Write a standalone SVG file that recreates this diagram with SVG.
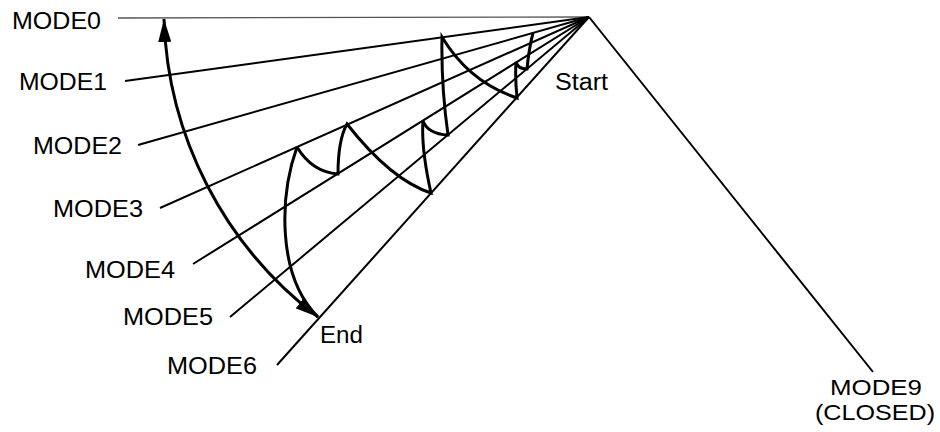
<svg xmlns="http://www.w3.org/2000/svg" width="940" height="432" viewBox="0 0 940 432">
<style>
.lbl{font-family:"Liberation Sans",Arial,Helvetica,sans-serif;font-size:23px;fill:#000}
.sm{font-size:22px}
.mode{stroke:#000;stroke-width:2;fill:none;stroke-linecap:butt}
.thin{stroke:#555;stroke-width:1.3;fill:none}
.trace{stroke:#000;stroke-width:3;fill:none;stroke-linejoin:miter}
.big{stroke:#000;stroke-width:3;fill:none}
</style>
<defs>
<marker id="arr" viewBox="0 0 10 10" refX="10" refY="5" markerUnits="userSpaceOnUse" markerWidth="23" markerHeight="13" orient="auto-start-reverse" preserveAspectRatio="none">
<path d="M0,0 L10,5 L0,10 z" fill="#000"/>
</marker>
</defs>
<rect width="940" height="432" fill="#fff"/>
<g id="connectors">
<line class="thin" x1="118" y1="18" x2="589" y2="17"/>
<line class="mode" x1="125" y1="81" x2="589" y2="17"/>
<line class="mode" x1="138" y1="145" x2="589" y2="17"/>
<line class="mode" x1="160" y1="208" x2="589" y2="17"/>
<line class="mode" x1="193" y1="264" x2="589" y2="17"/>
<line class="mode" x1="230" y1="317" x2="589" y2="17"/>
<line class="mode" x1="277" y1="365" x2="589" y2="17"/>
<line class="mode" x1="589" y1="17" x2="873" y2="372"/>
<path class="big" d="M164,19 A389,389 0 0,0 318,317" marker-start="url(#arr)" marker-end="url(#arr)"/>
<path class="trace" d="M297,147 C280,195 276,275 318,317"/>
<path class="trace" d="M297,147 Q312,172 338,174 Q338,140 347,124 Q391,180 431,193 Q421,148 423,121 Q428,134 448,135 Q441,85 442,37 Q469,82 517,98 Q515,78 516,62 Q518,69 527,69 Q529,48 533,33"/>
</g>
<g id="mode0"><text class="lbl" x="12" y="29" textLength="89" lengthAdjust="spacingAndGlyphs">MODE0</text></g>
<g id="mode1"><text class="lbl" x="19" y="90" textLength="88" lengthAdjust="spacingAndGlyphs">MODE1</text></g>
<g id="mode2"><text class="lbl" x="33" y="154" textLength="89" lengthAdjust="spacingAndGlyphs">MODE2</text></g>
<g id="mode3"><text class="lbl" x="53" y="217" textLength="90" lengthAdjust="spacingAndGlyphs">MODE3</text></g>
<g id="mode4"><text class="lbl" x="85" y="278" textLength="90" lengthAdjust="spacingAndGlyphs">MODE4</text></g>
<g id="mode5"><text class="lbl" x="123" y="325" textLength="90" lengthAdjust="spacingAndGlyphs">MODE5</text></g>
<g id="mode6"><text class="lbl" x="167" y="374" textLength="90" lengthAdjust="spacingAndGlyphs">MODE6</text></g>
<g id="end"><text class="lbl" x="320" y="343" textLength="43" lengthAdjust="spacingAndGlyphs">End</text></g>
<g id="start"><text class="lbl" x="555" y="90" textLength="53" lengthAdjust="spacingAndGlyphs">Start</text></g>
<g id="mode9">
<text class="lbl sm" x="830" y="395" textLength="92" lengthAdjust="spacingAndGlyphs">MODE9</text>
<text class="lbl sm" x="815" y="420" textLength="120" lengthAdjust="spacingAndGlyphs">(CLOSED)</text>
</g>
</svg>
